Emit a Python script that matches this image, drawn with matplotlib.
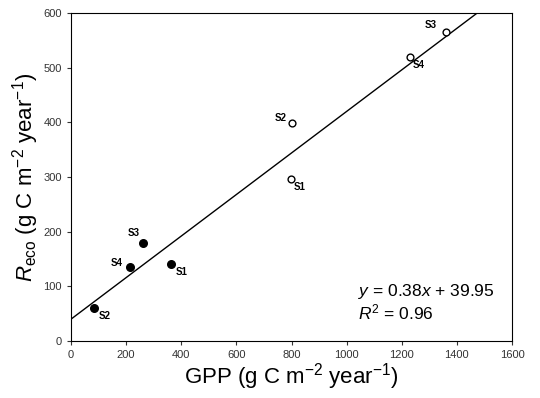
import numpy as np
import matplotlib
matplotlib.use("Agg")
import matplotlib.pyplot as plt

plt.rcParams['font.family'] = ['Liberation Sans', 'DejaVu Sans']
plt.rcParams['mathtext.fontset'] = 'custom'
plt.rcParams['mathtext.rm'] = 'Liberation Sans'
plt.rcParams['mathtext.it'] = 'Liberation Sans:italic'

# filled symbols (low GPP sites)
sites = ["S1", "S2", "S3", "S4"]
gpp_filled = [364, 85, 260, 215]
reco_filled = [141, 61, 180, 135]
# open symbols (high GPP sites)
gpp_open = [797, 803, 1360, 1230]
reco_open = [296, 398, 565, 520]

slope = 0.38
intercept = 39.95
r2 = 0.96

fig = plt.figure(figsize=(5.4, 3.98), dpi=100)
ax = fig.add_axes([71/540, 57/398, 441/540, 328/398])

xs = np.array([0, 1600])
ax.plot(xs, slope*xs + intercept, color='black', lw=1.0, zorder=1)
ax.scatter(gpp_filled, reco_filled, s=30, color='black', zorder=3)
ax.scatter(gpp_open, reco_open, s=24, facecolor='white', edgecolor='black', lw=1.0, zorder=3)

# label offsets in points
off_filled = {"S1": (3, -8), "S2": (3, -8), "S3": (-11, 5), "S4": (-14, 1)}
off_open = {"S1": (2, -8), "S2": (-13, 2), "S3": (-15, 3), "S4": (2, -8)}
for s, x, y in zip(sites, gpp_filled, reco_filled):
    ax.annotate(s, (x, y), xytext=off_filled[s], textcoords='offset points',
                fontsize=7, fontweight='bold')
for s, x, y in zip(sites, gpp_open, reco_open):
    ax.annotate(s, (x, y), xytext=off_open[s], textcoords='offset points',
                fontsize=7, fontweight='bold')

ax.text(1040, 82, r"$y$ = %.2f$x$ + %.2f" % (slope, intercept), fontsize=12.5)
ax.text(1040, 40, r"$R^2$ = %.2f" % r2, fontsize=12.5)

ax.set_xlim(0, 1600)
ax.set_ylim(0, 600)
ax.set_xticks(np.arange(0, 1601, 200))
ax.set_yticks(np.arange(0, 601, 100))
ax.tick_params(direction='out', length=3, labelsize=8, colors='#333333')
for sp in ax.spines.values():
    sp.set_linewidth(0.8)

ax.set_xlabel(r"GPP (g C m$^{-2}$ year$^{-1}$)", fontsize=16, labelpad=1)
ax.set_ylabel(r"$R_{\rm eco}$ (g C m$^{-2}$ year$^{-1}$)", fontsize=16, labelpad=2)

fig.savefig("out.png", dpi=100)
